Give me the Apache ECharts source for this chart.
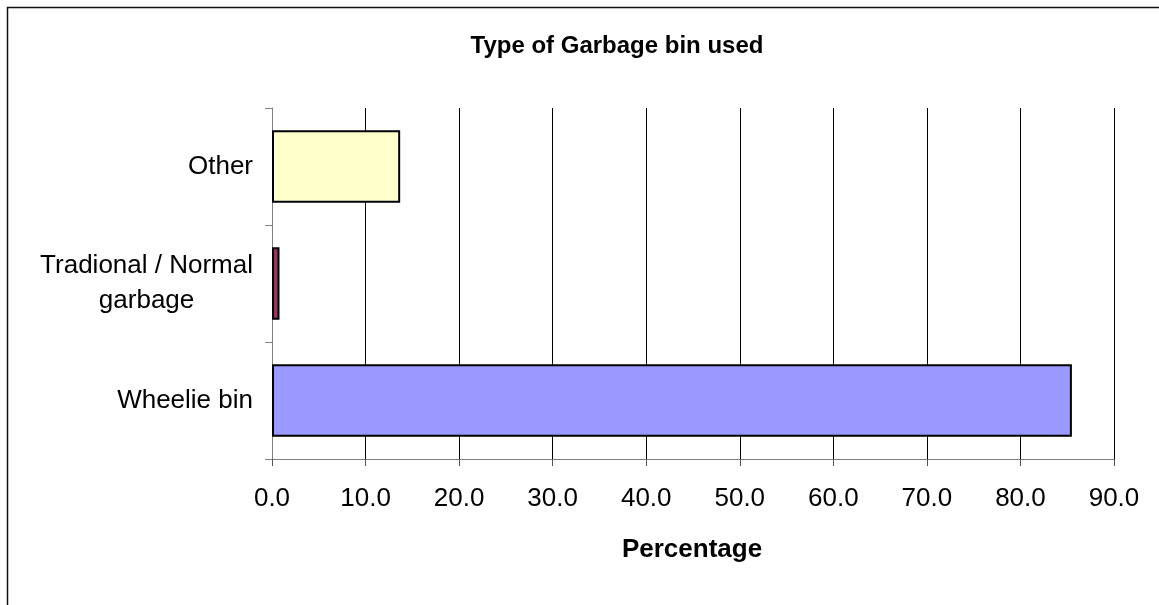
<!DOCTYPE html>
<html>
<head>
<meta charset="utf-8">
<script src="https://cdn.jsdelivr.net/npm/echarts@6/dist/echarts.min.js"></script>
<style>html,body{margin:0;padding:0;background:#fff}#c{width:1159px;height:605px}</style>
</head>
<body>
<div id="c"></div>
<script>
const categories = ['Wheelie bin', 'Tradional / Normal\ngarbage', 'Other'];
const values = [85.5, 0.8, 13.7];
const barColors = ['#9999FF', '#993366', '#FFFFCC'];
const xTicks = [0, 10, 20, 30, 40, 50, 60, 70, 80, 90];
const titleText = 'Type of Garbage bin used';
const xName = 'Percentage';

const FONT = '"Liberation Sans", Arial, sans-serif';
const chart = echarts.init(document.getElementById('c'), null, {renderer: 'canvas'});
chart.setOption({
  animation: false,
  backgroundColor: '#fff',
  title: {
    text: titleText, left: 612, top: 29, textAlign: 'center',
    textStyle: {fontFamily: FONT, fontSize: 24, fontWeight: 'bold', color: '#000'}
  },
  graphic: [{
    type: 'rect', silent: true, z: -1,
    shape: {x: 7.5, y: 7.5, width: 1300, height: 800},
    style: {fill: 'none', stroke: '#111', lineWidth: 1.5}
  }, {
    type: 'text', silent: true,
    style: {x: 692, y: 550, text: xName, fontFamily: FONT, fontSize: 26, fontWeight: 'bold',
            fill: '#000', align: 'center', verticalAlign: 'middle'}
  }],
  grid: {left: 272, right: 45, top: 108, bottom: 146, containLabel: false},
  xAxis: {
    type: 'value', min: xTicks[0], max: xTicks[xTicks.length - 1], interval: 10,
    axisLine: {show: true, lineStyle: {color: '#808080', width: 1}},
    axisTick: {show: true, length: 7, lineStyle: {color: '#555'}},
    splitLine: {show: true, lineStyle: {color: '#000', width: 1}},
    axisLabel: {
      margin: 27, color: '#000', fontFamily: FONT, fontSize: 26,
      formatter: v => v.toFixed(1)
    }
  },
  yAxis: {
    type: 'category', data: categories,
    axisLine: {show: true, lineStyle: {color: '#808080', width: 1}},
    axisTick: {show: true, length: 7, alignWithLabel: false, lineStyle: {color: '#808080'}},
    axisLabel: {
      margin: 19, color: '#000', fontFamily: FONT, fontSize: 26, lineHeight: 35,
      formatter: v => v.split('\n').map(s => '{c|' + s + '}').join('\n'),
      rich: {c: {align: 'center', fontFamily: FONT, fontSize: 26, lineHeight: 35, color: '#000'}}
    }
  },
  series: [{
    type: 'bar',
    barCategoryGap: '38%',
    data: values.map((v, i) => ({value: v, itemStyle: {color: barColors[i]}})),
    itemStyle: {borderColor: '#000', borderWidth: 2}
  }]
});
</script>
</body>
</html>
